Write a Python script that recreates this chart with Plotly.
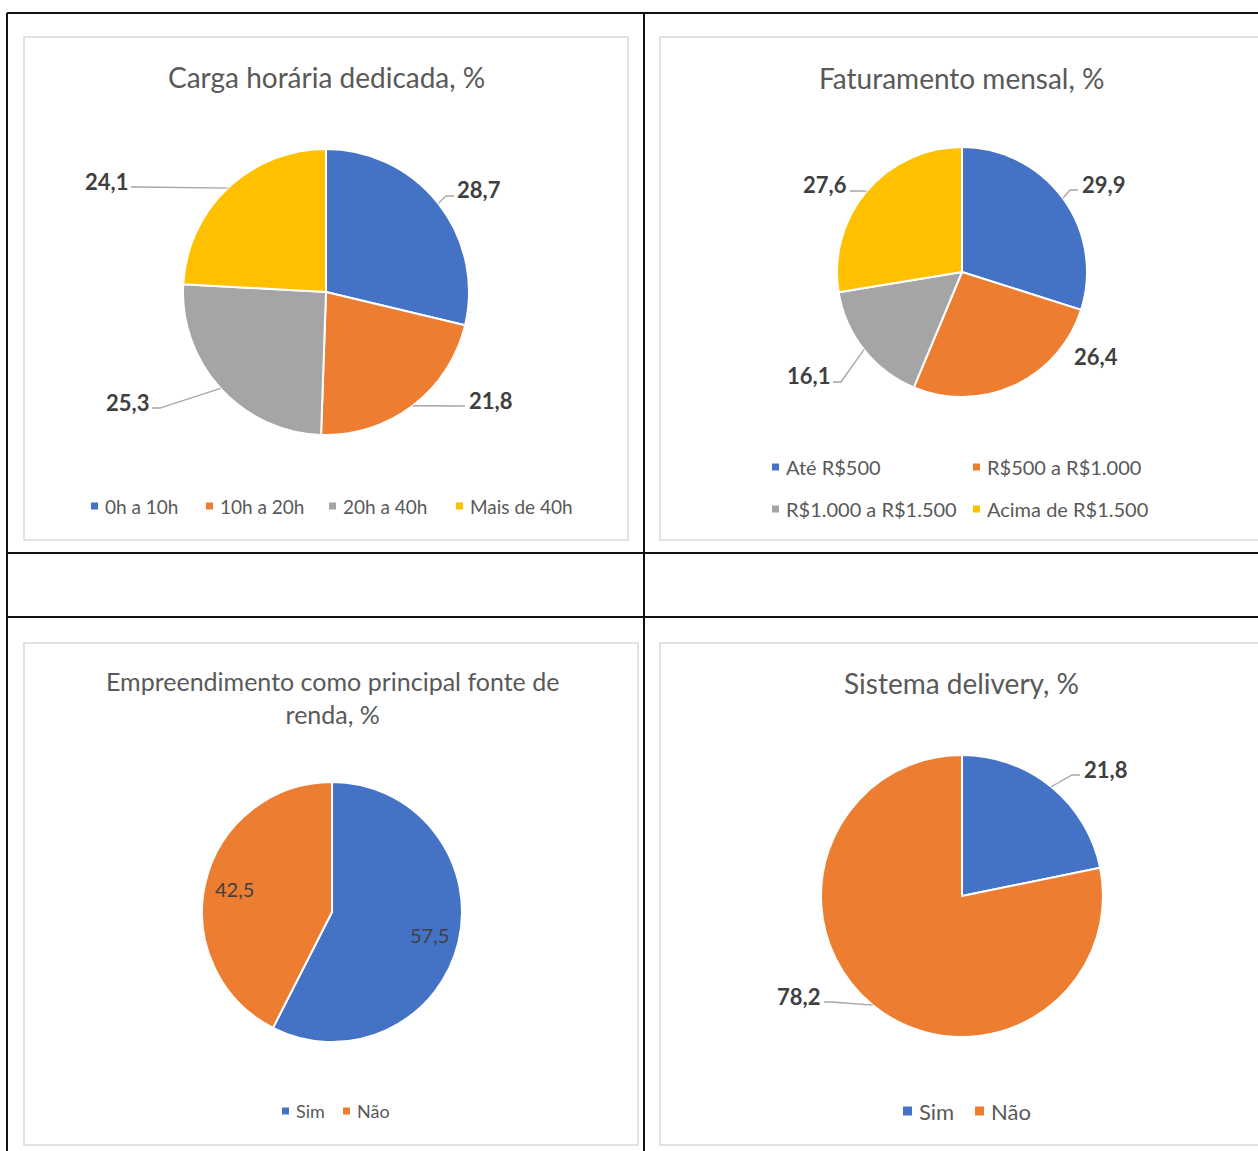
import math
import plotly.graph_objects as go

# ---- data ----
carga_labels = ["0h a 10h", "10h a 20h", "20h a 40h", "Mais de 40h"]
carga_values = [28.7, 21.8, 25.3, 24.1]

fat_labels = ["Até R$500", "R$500 a R$1.000", "R$1.000 a R$1.500", "Acima de R$1.500"]
fat_values = [29.9, 26.4, 16.1, 27.6]

renda_labels = ["Sim", "Não"]
renda_values = [57.5, 42.5]

delivery_labels = ["Sim", "Não"]
delivery_values = [21.8, 78.2]

COLORS = ["#4472C4", "#ED7D31", "#A5A5A5", "#FFC000"]
FONT = "Lato"
TXT = "#595959"
LBL = "#404040"

W, H = 1258, 1151


def px(x):
    return x / W


def py(y):
    return 1 - y / H


panels = [
    dict(title="Carga horária dedicada, %", title_y=77, title_size=28,
         labels=carga_labels, values=carga_values, c=(326, 292), r=143,
         box=(24, 37, 628, 540),
         # label offsets from the pie centre (px), None = inside label
         lab=[(153, -102), (164, 108), (-199, 110), (-220, -111)],
         line=[True, True, True, True],
         legend=[[(91, 506), (206, 506), (329, 506), (456, 506)]], leg_size=19),
    dict(title="Faturamento mensal, %", title_y=78, title_size=28,
         labels=fat_labels, values=fat_values, c=(962, 272), r=125,
         box=(660, 37, 1264, 540),
         lab=[(141, -88), (134, 84), (-154, 104), (-137, -87)],
         line=[True, False, True, True],
         legend=[[(772, 467), (973, 467), (772, 509), (973, 509)]], leg_size=20),
    dict(title="Empreendimento como principal fonte de<br>renda, %", title_y=697, title_size=25,
         labels=renda_labels, values=renda_values, c=(332, 912), r=130,
         box=(24, 643, 638, 1145),
         lab=None, line=None,
         legend=[[(282, 1111), (343, 1111)]], leg_size=18),
    dict(title="Sistema delivery, %", title_y=683, title_size=28,
         labels=delivery_labels, values=delivery_values, c=(962, 896), r=141,
         box=(660, 643, 1264, 1145),
         lab=[(143, -127), (-163, 100)],
         line=[True, True],
         legend=[[(903, 1111), (975, 1111)]], leg_size=22),
]

fig = go.Figure()
shapes = []
annotations = []

# table grid
grid = [
    (7, 13, 1258, 13), (7, 553, 1258, 553), (7, 617, 1258, 617),
    (7, 13, 7, 1151), (644, 13, 644, 1151),
]
for x0, y0, x1, y1 in grid:
    shapes.append(dict(type="line", xref="paper", yref="paper",
                       x0=px(x0), y0=py(y0), x1=px(x1), y1=py(y1),
                       line=dict(color="#111111", width=2)))

for p in panels:
    cx, cy = p["c"]
    r = p["r"]
    bx0, by0, bx1, by1 = p["box"]
    shapes.append(dict(type="rect", xref="paper", yref="paper",
                       x0=px(bx0), y0=py(by0), x1=px(bx1), y1=py(by1),
                       line=dict(color="#d9d9d9", width=1.5), layer="below"))

    n = len(p["values"])
    fig.add_trace(go.Pie(
        labels=p["labels"], values=p["values"], sort=False,
        direction="clockwise", rotation=0, textinfo="none",
        marker=dict(colors=COLORS[:n], line=dict(color="white", width=2)),
        domain=dict(x=[px(cx - r), px(cx + r)], y=[py(cy + r), py(cy - r)]),
        showlegend=False, hoverinfo="label+value",
    ))

    annotations.append(dict(text=p["title"], x=px(cx), y=py(p["title_y"]),
                            xref="paper", yref="paper", showarrow=False,
                            xanchor="center", yanchor="middle",
                            font=dict(family=FONT, size=p["title_size"], color=TXT)))

    total = sum(p["values"])
    cum = 0
    for i, v in enumerate(p["values"]):
        th = 2 * math.pi * (cum + v / 2) / total
        cum += v
        dx, dy = math.sin(th), -math.cos(th)
        txt = f"{v:.1f}".replace(".", ",")
        if p["lab"] is None:
            lx, ly = cx + dx * r * 0.77, cy + dy * r * 0.77
            annotations.append(dict(text=txt, x=px(lx), y=py(ly), xref="paper", yref="paper",
                                    showarrow=False, xanchor="center", yanchor="middle",
                                    font=dict(family=FONT, size=20, color=LBL)))
            continue
        ox, oy = p["lab"][i]
        lx, ly = cx + ox, cy + oy
        annotations.append(dict(text=f"<b>{txt}</b>", x=px(lx), y=py(ly), xref="paper", yref="paper",
                                showarrow=False, xanchor="center", yanchor="middle",
                                font=dict(family=FONT, size=22, color=LBL)))
        if p["line"][i]:
            ex, ey = cx + dx * r, cy + dy * r
            hw = 23
            if lx > cx:
                endx, elbx = lx - hw - 2, lx - hw - 10
            else:
                endx, elbx = lx + hw + 2, lx + hw + 10
            endy = ly + 6
            path = (f"M {px(ex)},{py(ey)} L {px(elbx)},{py(endy)} "
                    f"L {px(endx)},{py(endy)}")
            shapes.append(dict(type="path", xref="paper", yref="paper", path=path,
                               line=dict(color="#a6a6a6", width=1.3)))

    # legend: small squares + names
    for (mx, my), name, col in zip(p["legend"][0], p["labels"], COLORS):
        s = 3.5 if p["leg_size"] < 21 else 4.5
        shapes.append(dict(type="rect", xref="paper", yref="paper",
                           x0=px(mx), x1=px(mx + 2 * s), y0=py(my - s), y1=py(my + s),
                           fillcolor=col, line=dict(width=0)))
        annotations.append(dict(text=name, x=px(mx + 2 * s + 5), y=py(my), xref="paper", yref="paper",
                                showarrow=False, xanchor="left", yanchor="middle",
                                font=dict(family=FONT, size=p["leg_size"], color=TXT)))

fig.update_layout(
    width=W, height=H, margin=dict(l=0, r=0, t=0, b=0),
    paper_bgcolor="white", plot_bgcolor="white",
    shapes=shapes, annotations=annotations,
    font=dict(family=FONT, color=TXT),
)

fig.write_html("out.html", config={"displayModeBar": False},
               post_script="document.body.style.margin='0';")
